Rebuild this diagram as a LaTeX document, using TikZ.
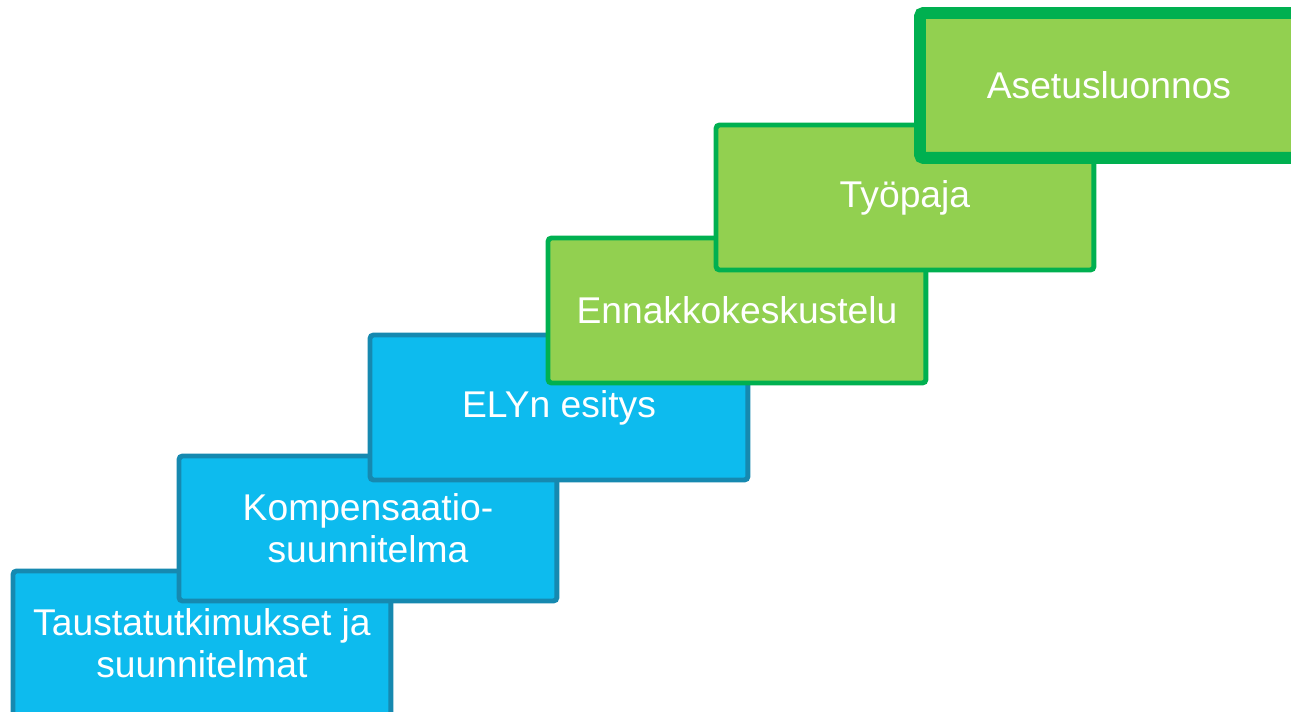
\documentclass[tikz,border=0pt]{standalone}
\usepackage{fontspec}
\setmainfont{Liberation Sans}
\usetikzlibrary{positioning}
\definecolor{stepblue}{RGB}{13,187,238}
\definecolor{stepblueline}{RGB}{22,137,176}
\definecolor{stepgreen}{RGB}{146,208,80}
\definecolor{stepgreenline}{RGB}{0,176,80}
\tikzset{
    base/.style={rectangle, rounded corners=2pt, align=center, text=white, font=\fontsize{21.2}{23.8}\selectfont, minimum width=7.56cm, minimum height=2.9cm, inner sep=4pt, outer sep=0pt, anchor=north west},
    bluestep/.style={base, fill=stepblue, draw=stepblueline, line width=2.8pt},
    greenstep/.style={base, fill=stepgreen, draw=stepgreenline, line width=2.8pt},
    laststep/.style={greenstep, line width=6.8pt}
}

\begin{document}
\begin{tikzpicture}[x=0.02cm, y=-0.02cm]
    \clip (0,0) rectangle (1291,712);
    \fill [white] (0,0) rectangle (1291,712);

    \node [bluestep] (TAUSTA) at (13,571) {Taustatutkimukset ja\\suunnitelmat};
    \node [bluestep] (KOMP) at (179,456) {Kompensaatio-\\suunnitelma};
    \node [bluestep] (ELY) at (370,335) {ELYn esitys};
    \node [greenstep] (ENNAKKO) at (548,238) {Ennakkokeskustelu};
    \node [greenstep] (TYOPAJA) at (716,125) {Työpaja};
    \node [laststep] (ASETUS) at (920,13) {Asetusluonnos};
\end{tikzpicture}
\end{document}
